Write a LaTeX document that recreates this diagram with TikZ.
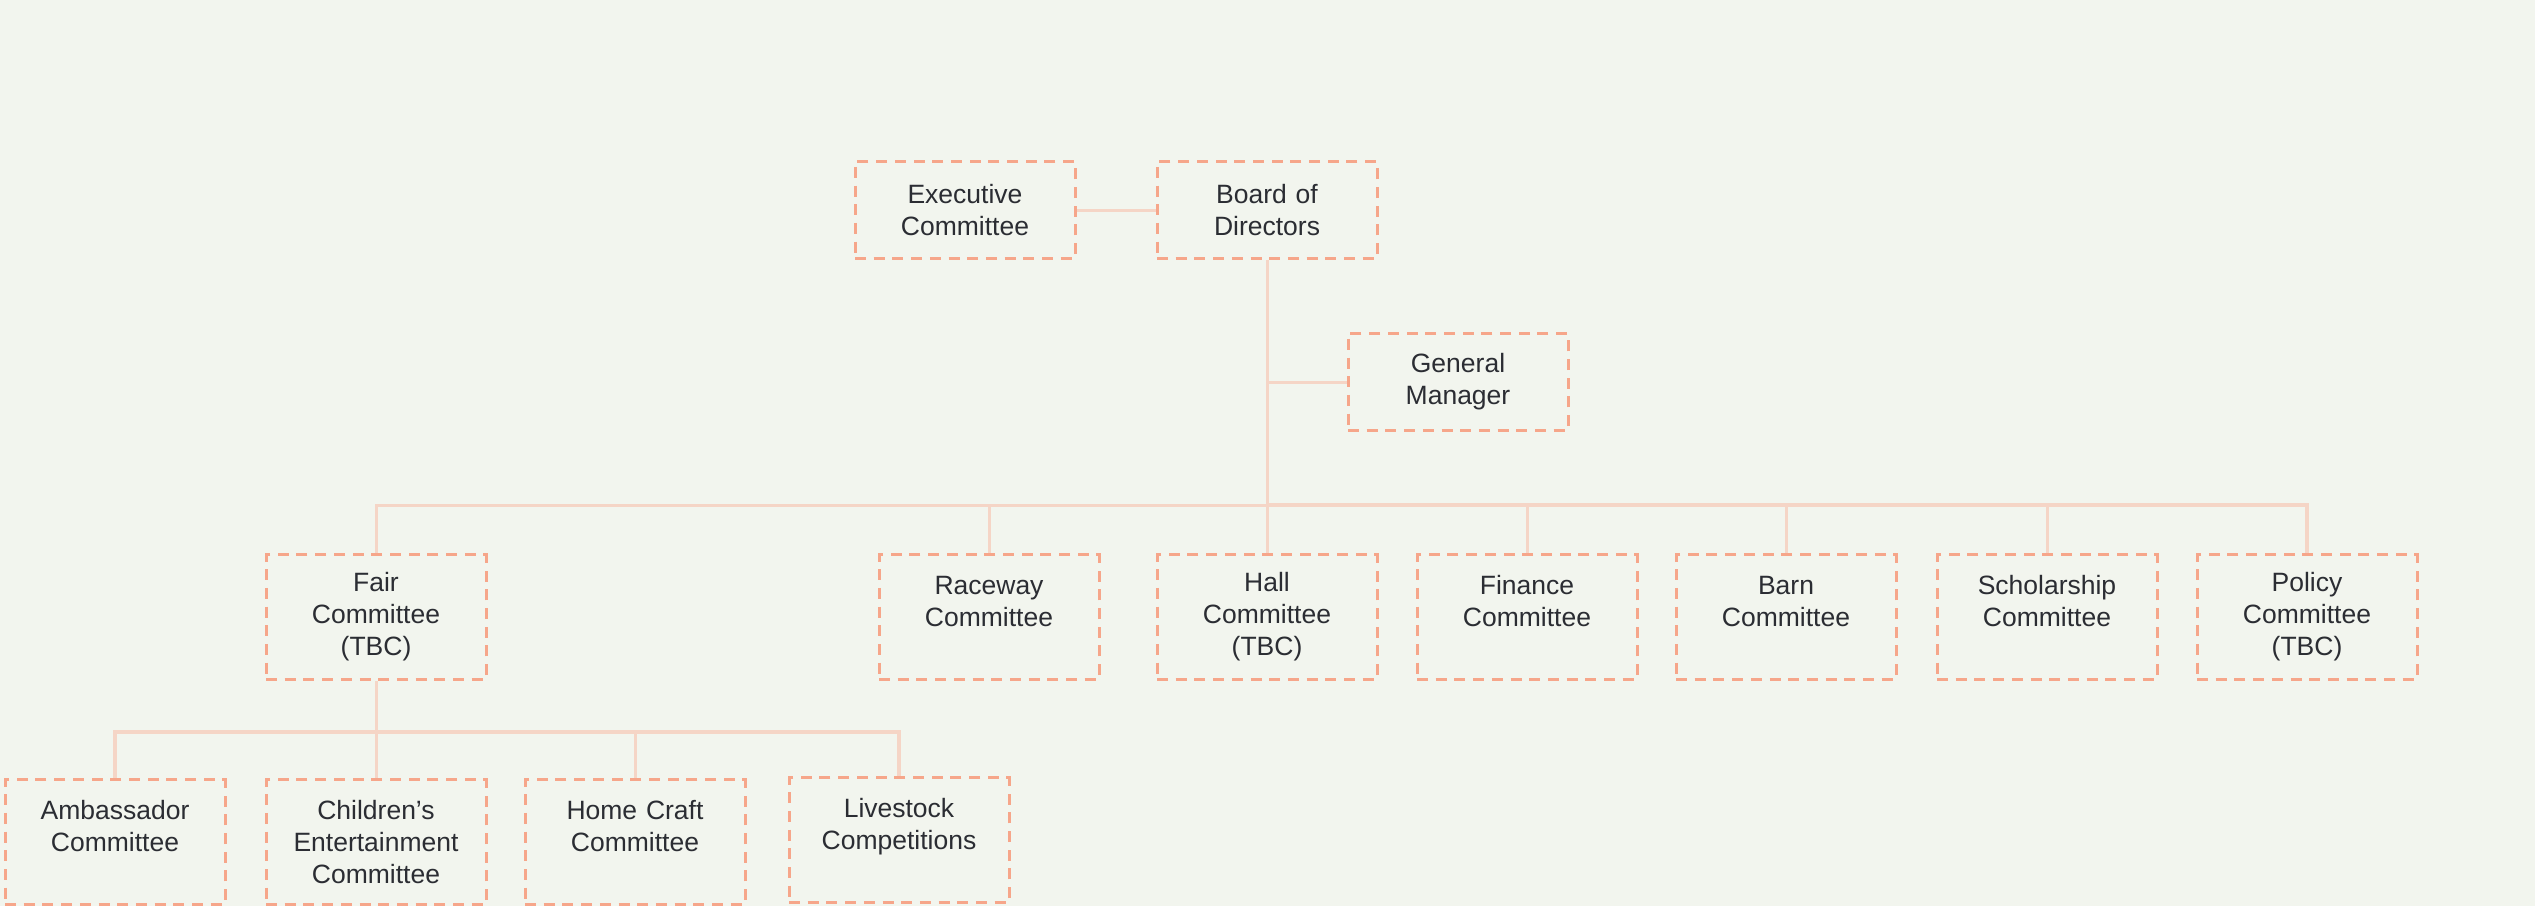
\documentclass[tikz,border=0pt]{standalone}
\usepackage{fontspec}
\setmainfont{Liberation Sans}
\definecolor{paper}{HTML}{F2F5EE}
\definecolor{boxline}{HTML}{F6A68A}
\definecolor{linkline}{HTML}{F5D5C6}
\definecolor{ink}{HTML}{2B2D33}

\begin{document}
\begin{tikzpicture}[x=1pt, y=-1pt,
  unit/.style={draw=boxline, line width=3pt, dash pattern=on 11pt off 7.7pt,
    minimum width=220pt, minimum height=97pt, text width=200pt, inner xsep=10pt,
    align=center, text=ink, font=\fontsize{26.5}{32}\selectfont},
  tall/.style={unit, minimum height=125pt},
  link/.style={draw=linkline, line width=3pt},
  heavy/.style={link, line width=4.5pt}]
\fill[paper] (0,0) rectangle (2535,906); % background
\useasboundingbox (0,0) rectangle (2535,906);
% top
\node[unit] (exec) at (965,210) {Executive\\Committee};
\node[unit] (board) at (1267,210) {Board of\\Directors};
\node[unit] (gm) at (1458,382) {General\\Manager};
% committees
\node[tall] (fair) at (376,617) {Fair\\Committee\\(TBC)};
\node[tall] (raceway) at (989,617) {Raceway\\Committee\\\mbox{}};
\node[tall] (hall) at (1267,617) {Hall\\Committee\\(TBC)};
\node[tall] (finance) at (1527,617) {Finance\\Committee\\\mbox{}};
\node[tall] (barn) at (1786,617) {Barn\\Committee\\\mbox{}};
\node[tall] (scholar) at (2047,617) {Scholarship\\Committee\\\mbox{}};
\node[tall] (policy) at (2307,617) {Policy\\Committee\\(TBC)};
% fair sub-committees
\node[tall] (ambass) at (115,842) {Ambassador\\Committee\\\mbox{}};
\node[tall] (children) at (376,842) {Children’s\\Entertainment\\Committee};
\node[tall] (homecraft) at (635,842) {Home Craft\\Committee\\\mbox{}};
\node[tall] (livestock) at (899,840) {Livestock\\Competitions\\\mbox{}};
% links
\coordinate (bus) at (1267,505);
\coordinate (sub) at (376,732);
\draw[link] (exec) -- (board);
\draw[link] (board) -- (hall);
\draw[link] (board.south |- gm) -- (gm);
\draw[link] (bus) -| (fair);
\draw[heavy] (bus) -| (policy);
\foreach \n in {raceway,finance,barn,scholar}
  \draw[link] (bus -| \n) -- (\n);
\draw[link] (fair) -- (children);
\draw[heavy] (sub) -| (ambass);
\draw[heavy] (sub) -| (livestock);
\draw[link] (sub -| homecraft) -- (homecraft);
\end{tikzpicture}
\end{document}
